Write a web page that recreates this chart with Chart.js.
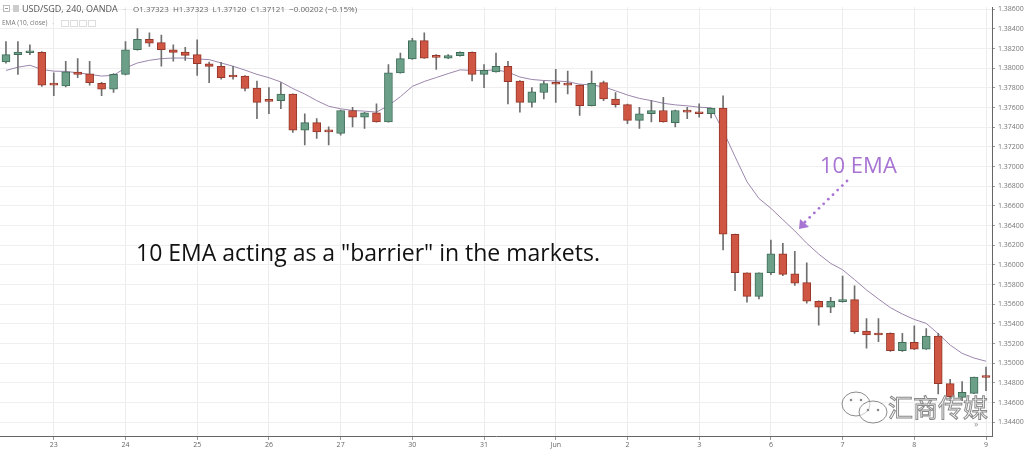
<!DOCTYPE html>
<html>
<head>
<meta charset="utf-8">
<title>USD/SGD 240 - 10 EMA</title>
<script src="https://cdn.jsdelivr.net/npm/chart.js@4.4.1/dist/chart.umd.min.js"></script>
<style>
  html, body { margin: 0; padding: 0; background: #ffffff; }
  #wrap { position: relative; width: 1024px; height: 451px; }
</style>
</head>
<body>
<div id="wrap"><canvas id="fxChart"></canvas></div>
<script>
// USD/SGD 4h candles, 22 May - 9 Jun, with the 10 EMA
const days = ['22', '23', '24', '25', '26', '27', '30', '31', 'Jun', '2', '3', '6', '7', '8', '9'];
const hours = ['00', '04', '08', '12', '16', '20'];

const opens = [
  1.38063, 1.38137, 1.38157, 1.38160, 1.37830, 1.37820, 1.37960, 1.37943, 1.37847, 1.37787,
  1.37937, 1.38187, 1.38293, 1.38260, 1.38187, 1.38163, 1.38137, 1.38043, 1.38020, 1.37915,
  1.37920, 1.37797, 1.37667, 1.37670, 1.37737, 1.37370, 1.37447, 1.37357, 1.37337, 1.37570,
  1.37503, 1.37547, 1.37453, 1.37953, 1.38093, 1.38280, 1.38113, 1.38103, 1.38127, 1.38160,
  1.37937, 1.37963, 1.38020, 1.37870, 1.37653, 1.37753, 1.37840, 1.37843, 1.37827, 1.37620,
  1.37853, 1.37687, 1.37630, 1.37470, 1.37537, 1.37570, 1.37447, 1.37570, 1.37553, 1.37537,
  1.37593, 1.36310, 1.35920, 1.35680, 1.35920, 1.36113, 1.35910, 1.35820, 1.35630, 1.35570,
  1.35627, 1.35647, 1.35327, 1.35303, 1.35303, 1.35127, 1.35213, 1.35143, 1.35277, 1.34793,
  1.34653, 1.34693, 1.34860
];
const highs = [
  1.38270, 1.38270, 1.38237, 1.38170, 1.37953, 1.38070, 1.38097, 1.38070, 1.37855, 1.37945,
  1.38270, 1.38403, 1.38360, 1.38337, 1.38237, 1.38213, 1.38287, 1.38063, 1.38060, 1.38020,
  1.37925, 1.37870, 1.37803, 1.37853, 1.37740, 1.37537, 1.37487, 1.37403, 1.37575, 1.37603,
  1.37550, 1.37637, 1.38037, 1.38153, 1.38303, 1.38360, 1.38137, 1.38137, 1.38165, 1.38165,
  1.38037, 1.38153, 1.38070, 1.37875, 1.37803, 1.37870, 1.37987, 1.37970, 1.37830, 1.37970,
  1.37870, 1.37753, 1.37635, 1.37603, 1.37670, 1.37703, 1.37575, 1.37603, 1.37637, 1.37595,
  1.37720, 1.36313, 1.35920, 1.35920, 1.36253, 1.36220, 1.36137, 1.36020, 1.35635, 1.35670,
  1.35887, 1.35787, 1.35453, 1.35453, 1.35310, 1.35303, 1.35380, 1.35353, 1.35303, 1.34837,
  1.34813, 1.34860, 1.34960
];
const lows = [
  1.38050, 1.37937, 1.38137, 1.37815, 1.37720, 1.37810, 1.37903, 1.37827, 1.37720, 1.37753,
  1.37932, 1.38182, 1.38220, 1.38020, 1.38070, 1.38080, 1.37927, 1.37853, 1.37887, 1.37887,
  1.37770, 1.37487, 1.37537, 1.37587, 1.37347, 1.37220, 1.37287, 1.37220, 1.37320, 1.37403,
  1.37387, 1.37450, 1.37450, 1.37950, 1.38090, 1.38100, 1.37987, 1.38097, 1.38122, 1.37870,
  1.37803, 1.37960, 1.37637, 1.37553, 1.37603, 1.37687, 1.37653, 1.37737, 1.37520, 1.37615,
  1.37670, 1.37603, 1.37437, 1.37387, 1.37453, 1.37450, 1.37403, 1.37487, 1.37503, 1.37493,
  1.36153, 1.35737, 1.35620, 1.35653, 1.35900, 1.35890, 1.35790, 1.35610, 1.35387, 1.35513,
  1.35620, 1.35303, 1.35153, 1.35220, 1.35120, 1.35120, 1.35137, 1.35140, 1.34687, 1.34620,
  1.34620, 1.34690, 1.34720
];
const closes = [
  1.38137, 1.38163, 1.38163, 1.37827, 1.37827, 1.37963, 1.37937, 1.37853, 1.37787, 1.37937,
  1.38187, 1.38293, 1.38253, 1.38187, 1.38160, 1.38130, 1.38047, 1.38017, 1.37903, 1.37910,
  1.37793, 1.37653, 1.37663, 1.37737, 1.37370, 1.37447, 1.37353, 1.37353, 1.37570, 1.37503,
  1.37547, 1.37453, 1.37953, 1.38097, 1.38280, 1.38103, 1.38110, 1.38127, 1.38160, 1.37937,
  1.37977, 1.38020, 1.37863, 1.37653, 1.37760, 1.37843, 1.37837, 1.37827, 1.37620, 1.37847,
  1.37687, 1.37630, 1.37470, 1.37537, 1.37570, 1.37453, 1.37570, 1.37553, 1.37537, 1.37593,
  1.36313, 1.35920, 1.35680, 1.35920, 1.36113, 1.35903, 1.35813, 1.35630, 1.35570, 1.35630,
  1.35647, 1.35320, 1.35287, 1.35287, 1.35127, 1.35213, 1.35143, 1.35277, 1.34793, 1.34660,
  1.34703, 1.34860, 1.34855
];
// EMA(10, close)
const ema10 = [
  1.37977, 1.38010, 1.38030, 1.37987, 1.37970, 1.37967, 1.37953, 1.37937, 1.37920, 1.37927,
  1.38003, 1.38053, 1.38080, 1.38097, 1.38103, 1.38103, 1.38093, 1.38087, 1.38053, 1.38020,
  1.37980, 1.37937, 1.37903, 1.37860, 1.37793, 1.37737, 1.37670, 1.37613, 1.37587, 1.37570,
  1.37563, 1.37553, 1.37620, 1.37710, 1.37815, 1.37865, 1.37905, 1.37945, 1.37983, 1.37977,
  1.37977, 1.37983, 1.37960, 1.37910, 1.37885, 1.37875, 1.37870, 1.37863, 1.37837, 1.37830,
  1.37810, 1.37770, 1.37727, 1.37693, 1.37670, 1.37643, 1.37627, 1.37617, 1.37603, 1.37597,
  1.37365, 1.37100, 1.36845, 1.36675, 1.36575, 1.36460, 1.36345, 1.36220, 1.36110, 1.36015,
  1.35950, 1.35850, 1.35745, 1.35653, 1.35565, 1.35500, 1.35445, 1.35405, 1.35300, 1.35185,
  1.35100, 1.35053, 1.35020
];
const priceTicks = [
  1.344, 1.346, 1.348, 1.350, 1.352, 1.354, 1.356, 1.358, 1.360, 1.362, 1.364,
  1.366, 1.368, 1.370, 1.372, 1.374, 1.376, 1.378, 1.380, 1.382, 1.384, 1.386
];

// candle times: chart opens at 22nd 08:00 and ends on the 9th 00:00
const categories = [];
days.forEach(function(d, di) {
  hours.forEach(function(h, hi) {
    if (di === 0 && hi < 2) return;
    if (di === days.length - 1 && hi > 0) return;
    categories.push(d + ' ' + h);
  });
});

const UP_FILL = '#6b9f88';
const UP_EDGE = '#3f6d58';
const DOWN_FILL = '#cf5643';
const DOWN_EDGE = '#95372a';

document.addEventListener('DOMContentLoaded', function() {
  createChart(document.getElementById('fxChart'));
});

function isDayStart(i) {
  return categories[i] && categories[i].endsWith(' 00');
}

// text, arrow and watermark drawn over the plot
const overlayPlugin = {
  id: 'overlay',
  afterDraw(chart) {
    const ctx = chart.ctx;
    ctx.save();

    // header
    ctx.fillStyle = '#bbb';
    ctx.fillRect(3, 5, 7, 7);
    ctx.fillStyle = '#fff';
    ctx.fillRect(4, 6, 5, 5);
    ctx.fillStyle = '#999';
    ctx.fillRect(5, 8, 3, 1);
    ctx.fillStyle = '#ccc';
    ctx.fillRect(13, 5, 6, 7);
    ctx.fillStyle = '#555';
    ctx.font = '9px "Open Sans", sans-serif';
    ctx.textBaseline = 'alphabetic';
    ctx.fillText('USD/SGD, 240, OANDA', 22, 12);
    ctx.fillStyle = '#ccc';
    ctx.fillText('-', 123, 12);
    ctx.fillStyle = '#666';
    ctx.font = '8px "Open Sans", sans-serif';
    ctx.fillText('O1.37323  H1.37323  L1.37120  C1.37121  \u22120.00202 (\u22120.15%)', 133, 12);
    ctx.fillStyle = '#777';
    ctx.font = '6.5px "Open Sans", sans-serif';
    ctx.fillText('EMA (10, close)', 2, 25);
    ctx.fillStyle = '#ccc';
    ctx.fillText('-', 52, 25);
    ctx.strokeStyle = '#ddd';
    ctx.lineWidth = 1;
    [61, 70, 79, 88].forEach(function(x) { ctx.strokeRect(x + 0.5, 20.5, 7, 6); });

    // main caption
    ctx.fillStyle = '#111';
    ctx.font = '23px "Open Sans", sans-serif';
    ctx.fillText('10 EMA acting as a "barrier" in the markets.', 136, 261);

    // 10 EMA label and dotted arrow
    const purple = '#a874d4';
    ctx.fillStyle = purple;
    ctx.font = '22px "Open Sans", sans-serif';
    ctx.fillText('10 EMA', 820, 173);
    const x0 = 847, y0 = 181, x1 = 805, y1 = 222;
    const steps = 9;
    for (let k = 0; k <= steps; k++) {
      const t = k / steps;
      ctx.beginPath();
      ctx.arc(x0 + (x1 - x0) * t, y0 + (y1 - y0) * t, 1.4, 0, Math.PI * 2);
      ctx.fill();
    }
    ctx.beginPath();
    ctx.moveTo(799, 229);
    ctx.lineTo(800, 219);
    ctx.lineTo(809, 227);
    ctx.closePath();
    ctx.fill();

    // watermark
    ctx.strokeStyle = '#8a8a8a';
    ctx.lineWidth = 1;
    ctx.fillStyle = 'rgba(255,255,255,0.55)';
    ctx.beginPath();
    ctx.ellipse(856, 404, 14, 12, 0, 0, Math.PI * 2);
    ctx.fill();
    ctx.stroke();
    ctx.beginPath();
    ctx.ellipse(873, 412, 14, 11, 0, 0, Math.PI * 2);
    ctx.fill();
    ctx.stroke();
    ctx.fillStyle = '#8a8a8a';
    [[851, 400], [861, 400], [868, 410], [878, 410]].forEach(function(p) {
      ctx.beginPath();
      ctx.arc(p[0], p[1], 1.3, 0, Math.PI * 2);
      ctx.fill();
    });
    ctx.font = '25px "Noto Sans CJK SC", sans-serif';
    ctx.fillStyle = 'rgba(255,255,255,0.6)';
    ctx.fillText('汇商传媒', 888, 417);
    ctx.strokeText('汇商传媒', 888, 417);
    ctx.fillStyle = '#999';
    ctx.font = '9px "Open Sans", sans-serif';
    ctx.fillText('\u00bb', 974, 427);

    ctx.restore();
  }
};

function createChart(canvas) {
  const bodies = opens.map(function(o, i) { return [o, closes[i]]; });
  const wicks = lows.map(function(l, i) { return [l, highs[i]]; });
  const fills = opens.map(function(o, i) { return closes[i] >= o ? UP_FILL : DOWN_FILL; });
  const edges = opens.map(function(o, i) { return closes[i] >= o ? UP_EDGE : DOWN_EDGE; });

  try {
    new Chart(canvas, {
      type: 'bar',
      data: {
        labels: categories,
        datasets: [{
          label: 'EMA (10, close)',
          type: 'line',
          data: ema10,
          borderColor: '#9b86ad',
          borderWidth: 1,
          pointRadius: 0,
          tension: 0,
          order: 3
        }, {
          label: 'wick',
          data: wicks,
          backgroundColor: '#6f6f6f',
          borderWidth: 0,
          barThickness: 1,
          grouped: false,
          order: 2
        }, {
          label: 'body',
          data: bodies,
          backgroundColor: fills,
          borderColor: edges,
          borderWidth: 1,
          borderSkipped: false,
          barThickness: 8,
          minBarLength: 2,
          grouped: false,
          order: 1
        }]
      },
      options: {
        responsive: true,
        maintainAspectRatio: false,
        animation: false,
        layout: { padding: 0 },
        plugins: {
          legend: { display: false },
          tooltip: { enabled: false }
        },
        scales: {
          x: {
            type: 'category',
            offset: true,
            border: { color: '#666' },
            grid: {
              offset: false,
              tickLength: 4,
              color: function(c) { return isDayStart(c.index) ? '#ececec' : 'rgba(0,0,0,0)'; },
              tickColor: function(c) { return isDayStart(c.index) ? '#999' : 'rgba(0,0,0,0)'; }
            },
            ticks: {
              autoSkip: false,
              maxRotation: 0,
              padding: 1,
              color: '#666',
              font: { size: 7, family: '"Open Sans", sans-serif' },
              callback: function(v, i) { return isDayStart(i) ? categories[i].split(' ')[0] : ''; }
            },
            afterFit: function(scale) { scale.height = 15; }
          },
          y: {
            position: 'right',
            min: 1.3426,
            max: 1.3862,
            border: { color: '#666' },
            grid: { color: '#efefef', tickLength: 3, tickColor: '#999' },
            ticks: {
              padding: 3,
              color: '#777',
              font: { size: 7, family: '"Open Sans", sans-serif' },
              callback: function(v) { return v.toFixed(5); }
            },
            afterBuildTicks: function(scale) {
              scale.ticks = priceTicks.map(function(v) { return { value: v }; });
            },
            afterFit: function(scale) { scale.width = 32; }
          }
        }
      },
      plugins: [overlayPlugin]
    });
  } catch (error) {
    console.error('Error creating chart:', error);
  }
}
</script>
</body>
</html>
